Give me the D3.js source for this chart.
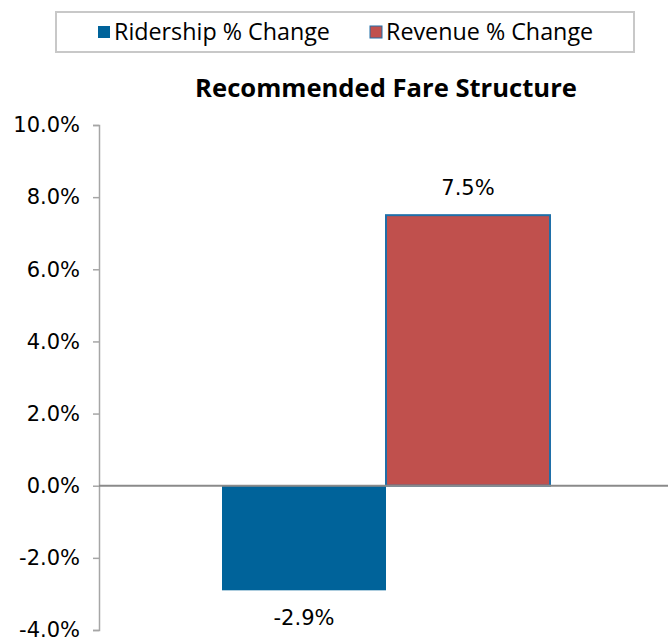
<!DOCTYPE html>
<html>
<head>
<meta charset="utf-8">
<script src="https://cdn.jsdelivr.net/npm/d3@7"></script>
<style>
  html, body { margin: 0; padding: 0; background: #fff; }
  svg { display: block; }
  text { fill: #000; }
</style>
</head>
<body>
<svg id="chart" width="668" height="644"></svg>
<script>
// Chart data
const categories = ["Recommended Fare Structure"];
const seriesNames = ["Ridership % Change", "Revenue % Change"];
const seriesValues = [-2.9, 7.5];
const seriesColors = ["#00639a", "#c0504d"];
const yTicks = [-4, -2, 0, 2, 4, 6, 8, 10];

const labelFont = "'Open Sans', sans-serif";
const numberFont = "'DejaVu Sans', sans-serif";
const pct = d => d3.format(".1f")(d).replace("\u2212", "-") + "%";

const svg = d3.select("#chart");
const W = 668, H = 644;
const plot = { left: 99, right: 673, top: 125, bottom: 630 };

// Scales
const y = d3.scaleLinear().domain([-4, 10]).range([plot.bottom, plot.top]);
const x0 = d3.scaleBand().domain(categories).range([plot.left, plot.right])
  .paddingInner(0).paddingOuter(0.375);
const x1 = d3.scaleBand().domain(seriesNames).range([0, x0.bandwidth()]).padding(0);

// Legend
const legend = svg.append("g");
legend.append("rect")
  .attr("x", 56).attr("y", 12).attr("width", 578).attr("height", 40)
  .attr("fill", "#fff").attr("stroke", "#c8c8c8").attr("stroke-width", 2);
const legendX = [98, 370];
seriesNames.forEach((name, i) => {
  const g = legend.append("g").attr("transform", `translate(${legendX[i]},0)`);
  g.append("rect").attr("x", 0).attr("y", 26).attr("width", 12).attr("height", 12)
    .attr("fill", seriesColors[i])
    .attr("stroke", i === 1 ? "#1f6fa8" : "none").attr("stroke-width", 1);
  g.append("text").attr("x", 16).attr("y", 40)
    .attr("font-family", labelFont).attr("font-size", 23.3).text(name);
});

// Title
svg.append("text")
  .attr("x", 386).attr("y", 97)
  .attr("text-anchor", "middle")
  .attr("font-family", labelFont)
  .attr("font-size", 25.6).attr("font-weight", "bold")
  .text(categories[0]);

// Y axis
const yAxis = d3.axisLeft(y).tickValues(yTicks)
  .tickFormat(pct)
  .tickSize(6).tickPadding(13);
const ay = svg.append("g").attr("transform", `translate(${plot.left},0)`).call(yAxis);
ay.select(".domain").attr("stroke", "#a6a6a6").attr("stroke-width", 1.5);
ay.selectAll(".tick line").attr("stroke", "#a6a6a6").attr("stroke-width", 1.5);
ay.selectAll(".tick text")
  .attr("font-size", 21).attr("font-family", numberFont)
  .attr("fill", "#000");

// Bars
const bars = svg.append("g");
seriesNames.forEach((name, i) => {
  const v = seriesValues[i];
  const bx = x0(categories[0]) + x1(name);
  bars.append("rect")
    .attr("x", bx)
    .attr("y", y(Math.max(0, v)))
    .attr("width", x1.bandwidth())
    .attr("height", Math.abs(y(v) - y(0)))
    .attr("fill", seriesColors[i])
    .attr("stroke", i === 1 ? "#1f6fa8" : "none")
    .attr("stroke-width", 2);
  bars.append("text")
    .attr("x", bx + x1.bandwidth() / 2)
    .attr("y", v >= 0 ? y(v) - 20 : y(v) + 35)
    .attr("text-anchor", "middle")
    .attr("font-family", numberFont)
    .attr("font-size", 21)
    .text(pct(v));
});

// Zero baseline
svg.append("line")
  .attr("x1", plot.left).attr("x2", W)
  .attr("y1", y(0)).attr("y2", y(0))
  .attr("stroke", "#8a8a8a").attr("stroke-width", 2);
</script>
</body>
</html>
